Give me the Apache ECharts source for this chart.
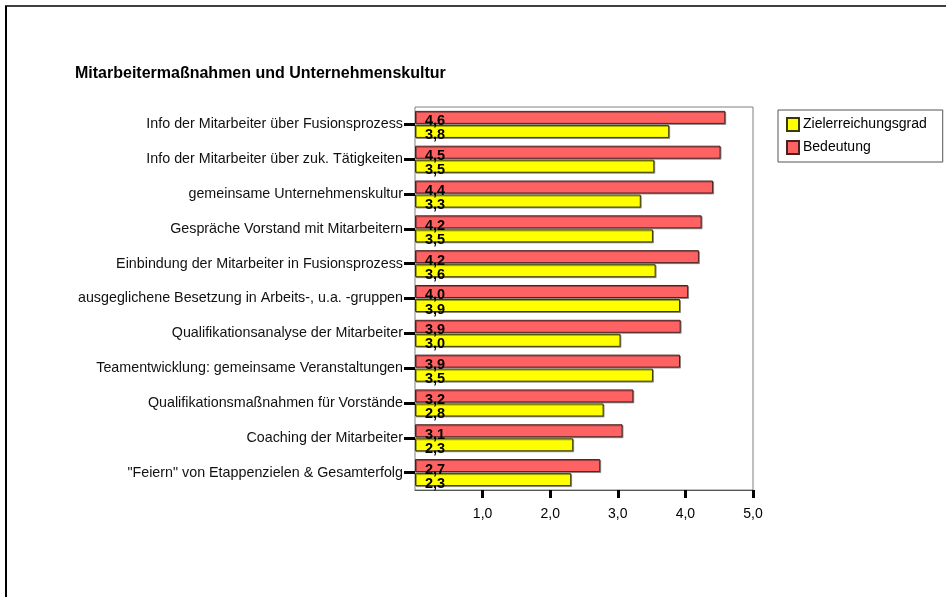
<!DOCTYPE html>
<html>
<head>
<meta charset="utf-8">
<script src="https://cdn.jsdelivr.net/npm/echarts@6/dist/echarts.min.js"></script>
<style>
  html, body { margin: 0; padding: 0; background: #fff; }
  #chart { width: 946px; height: 597px; }
</style>
</head>
<body>
<div id="chart"></div>
<script>
// Kategorien (von oben nach unten)
var categories = [
  'Info der Mitarbeiter über Fusionsprozess',
  'Info der Mitarbeiter über zuk. Tätigkeiten',
  'gemeinsame Unternehmenskultur',
  'Gespräche Vorstand mit Mitarbeitern',
  'Einbindung der Mitarbeiter in Fusionsprozess',
  'ausgeglichene Besetzung in Arbeits-, u.a. -gruppen',
  'Qualifikationsanalyse der Mitarbeiter',
  'Teamentwicklung: gemeinsame Veranstaltungen',
  'Qualifikationsmaßnahmen für Vorstände',
  'Coaching der Mitarbeiter',
  '"Feiern" von Etappenzielen & Gesamterfolg'
];
var bedeutung = [4.59, 4.52, 4.41, 4.24, 4.2, 4.04, 3.93, 3.92, 3.23, 3.07, 2.74];
var zielerreichung = [3.76, 3.54, 3.34, 3.52, 3.56, 3.92, 3.04, 3.52, 2.79, 2.34, 2.31];
var xTicks = [1, 2, 3, 4, 5];

var fmt = function (v) { return v.toFixed(1).replace('.', ','); };
var font = 'Liberation Sans, Arial, sans-serif';

var chart = echarts.init(document.getElementById('chart'));

var labelStyle = {
  show: true,
  position: 'insideLeft',
  distance: 10,
  offset: [0, 4],
  fontFamily: font,
  fontSize: 14.5,
  fontWeight: 'bold',
  color: '#000',
  formatter: function (p) { return fmt(p.value); }
};

var option = {
  animation: false,
  backgroundColor: '#fff',
  textStyle: { fontFamily: font },
  title: {
    text: 'Mitarbeitermaßnahmen und Unternehmenskultur',
    left: 75,
    top: 66,
    padding: 0,
    textStyle: { fontFamily: font, fontSize: 16, fontWeight: 'bold', color: '#000' }
  },
  graphic: [
    { type: 'line', shape: { x1: 6, y1: 6, x2: 6, y2: 597 }, style: { stroke: '#000', lineWidth: 2 } },
    { type: 'line', shape: { x1: 5, y1: 6, x2: 946, y2: 6 }, style: { stroke: '#000', lineWidth: 1.5 } }
  ],
  legend: {
    data: ['Zielerreichungsgrad', 'Bedeutung'],
    orient: 'vertical',
    left: 778,
    top: 110,
    padding: [7, 16, 7, 8],
    itemWidth: 12,
    itemHeight: 13,
    itemGap: 8,
    icon: 'rect',
    borderColor: '#555',
    borderWidth: 1,
    textStyle: { fontFamily: font, fontSize: 14, color: '#000', padding: [0, 0, 0, -1] }
  },
  grid: {
    left: 415,
    right: 193,
    top: 107,
    bottom: 107,
    show: true,
    borderColor: '#808080',
    borderWidth: 1
  },
  xAxis: {
    type: 'value',
    min: 0,
    max: 5,
    interval: 1,
    splitLine: { show: false },
    axisLine: { show: true, lineStyle: { color: '#555', width: 1 } },
    axisTick: { show: true, customValues: xTicks, length: 8, lineStyle: { color: '#000', width: 3 } },
    axisLabel: {
      customValues: xTicks,
      margin: 17,
      fontFamily: font,
      fontSize: 14,
      color: '#000',
      formatter: function (v) { return fmt(v); }
    }
  },
  yAxis: {
    type: 'category',
    data: categories,
    inverse: true,
    axisLine: { show: false },
    axisTick: { show: true, alignWithLabel: true, length: 11, lineStyle: { color: '#000', width: 3 } },
    axisLabel: { margin: 12, fontFamily: font, fontSize: 14.3, color: '#111' }
  },
  series: [
    {
      name: 'Bedeutung',
      type: 'bar',
      data: bedeutung,
      barWidth: 13,
      barGap: '8%',
      itemStyle: {
        color: '#FF6262',
        borderColor: '#4a2020',
        borderWidth: 1,
        shadowColor: 'rgba(0,0,0,0.35)',
        shadowOffsetX: 1,
        shadowOffsetY: 1
      },
      label: labelStyle
    },
    {
      name: 'Zielerreichungsgrad',
      type: 'bar',
      data: zielerreichung,
      barWidth: 13,
      itemStyle: {
        color: '#FFFF00',
        borderColor: '#3a3a00',
        borderWidth: 1,
        shadowColor: 'rgba(0,0,0,0.35)',
        shadowOffsetX: 1,
        shadowOffsetY: 1
      },
      label: labelStyle
    }
  ]
};

chart.setOption(option);
</script>
</body>
</html>
